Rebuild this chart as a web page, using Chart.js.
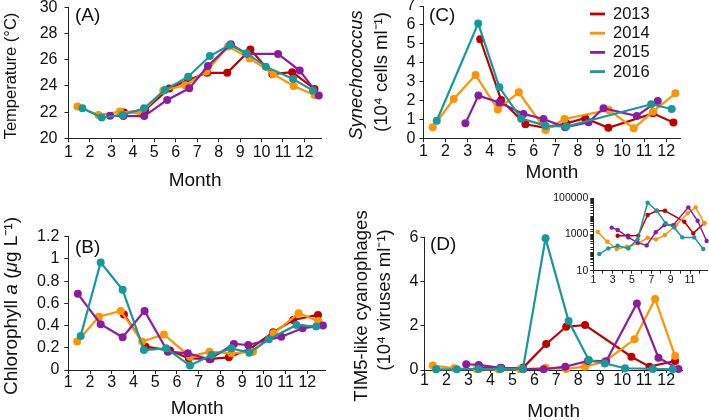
<!DOCTYPE html>
<html><head><meta charset="utf-8">
<script src="https://cdn.jsdelivr.net/npm/chart.js@4.4.1/dist/chart.umd.min.js"></script>
<style>
html,body{margin:0;padding:0;background:#fff;overflow:hidden;width:709px;height:420px;position:relative;}
canvas{position:absolute;left:-20px;top:-20px;}
</style></head><body>
<canvas id="cA" width="749" height="460"></canvas>
<canvas id="cB" width="749" height="460"></canvas>
<canvas id="cC" width="749" height="460"></canvas>
<canvas id="cD" width="749" height="460"></canvas>
<canvas id="cI" width="749" height="460"></canvas>
<script>
// ---------- data ----------
const years = ['2013', '2014', '2015', '2016'];
const colors = ['#C00000', '#FF9300', '#8B1D9C', '#17999B'];
const monthTicks = [1, 2, 3, 4, 5, 6, 7, 8, 9, 10, 11, 12];
const insetMonthLabels = [1, 3, 5, 7, 9, 11];

// (A) Temperature
const tempTicks = [20, 22, 24, 26, 28, 30];
const tempMonth2013 = [3.59, 4.57, 5.7, 6.58, 7.47, 8.4, 9.48, 10.5, 11.43, 12.47];
const temp2013 = [21.96, 22.16, 23.8, 24.45, 25.0, 25.0, 26.78, 24.9, 25.05, 23.77];
const tempMonth2014 = [1.42, 2.4, 3.4, 4.36, 5.42, 6.45, 7.43, 8.44, 9.45, 10.55, 11.5, 12.47];
const temp2014 = [22.42, 21.78, 22.04, 21.9, 23.64, 24.05, 25.1, 27.0, 26.1, 24.9, 24.0, 23.3];
const tempMonth2015 = [2.94, 3.56, 4.53, 5.6, 6.63, 7.5, 8.57, 9.3, 10.77, 11.78, 12.67];
const temp2015 = [21.73, 21.7, 21.7, 22.93, 23.82, 25.52, 27.18, 26.45, 26.44, 25.17, 23.26];
const tempMonth2016 = [1.65, 2.55, 3.53, 4.52, 5.5, 6.58, 7.59, 8.52, 9.3, 10.2, 11.47, 12.4];
const temp2016 = [22.29, 21.58, 21.78, 22.29, 23.69, 24.7, 26.28, 27.12, 26.5, 25.47, 24.53, 23.64];

// (B) Chlorophyll a
const chlTicks = [0, 0.2, 0.4, 0.6, 0.8, 1, 1.2];
const chlMonth2013 = [3.56, 4.56, 5.68, 6.55, 7.55, 8.39, 9.36, 10.43, 11.35, 12.49];
const chl2013 = [0.5, 0.21, 0.175, 0.105, 0.1, 0.114, 0.19, 0.34, 0.45, 0.496];
const chlMonth2014 = [1.41, 2.41, 3.41, 4.4, 5.4, 6.6, 7.5, 8.5, 9.5, 10.45, 11.6, 12.5];
const chl2014 = [0.256, 0.48, 0.532, 0.256, 0.32, 0.12, 0.165, 0.15, 0.165, 0.33, 0.51, 0.44];
const chlMonth2015 = [1.44, 2.49, 3.5, 4.51, 5.58, 6.5, 7.5, 8.62, 9.28, 10.8, 11.78, 12.72];
const chl2015 = [0.686, 0.412, 0.295, 0.532, 0.165, 0.15, 0.096, 0.235, 0.225, 0.3, 0.376, 0.4];
const chlMonth2016 = [1.57, 2.49, 3.5, 4.48, 5.5, 6.6, 7.6, 8.5, 9.33, 10.23, 11.5, 12.41];
const chl2016 = [0.307, 0.968, 0.722, 0.18, 0.195, 0.04, 0.135, 0.195, 0.156, 0.277, 0.406, 0.391];

// (C) Synechococcus (10^4 cells/ml)
const synTicks = [0, 1, 2, 3, 4, 5, 6, 7];
const synMonth2013 = [3.57, 4.52, 5.62, 6.55, 7.47, 8.33, 9.38, 11.4, 12.33];
const syn2013 = [5.24, 2.03, 0.74, 0.55, 0.79, 1.06, 0.56, 1.32, 0.83];
const synMonth2014 = [1.42, 2.37, 3.36, 4.37, 5.32, 6.53, 7.39, 9.4, 10.53, 11.4, 12.42];
const syn2014 = [0.58, 2.08, 3.35, 1.53, 2.43, 0.44, 1.02, 1.5, 0.53, 1.41, 2.38];
const synMonth2015 = [2.9, 3.49, 4.44, 5.53, 6.44, 7.42, 8.48, 9.16, 10.67, 11.62];
const syn2015 = [0.79, 2.26, 1.89, 1.29, 1.02, 0.58, 0.85, 1.59, 1.18, 1.98];
const synMonth2016 = [1.6, 3.48, 4.44, 5.43, 6.53, 7.47, 11.32, 12.25];
const syn2016 = [0.93, 6.08, 2.7, 1.04, 0.67, 0.62, 1.8, 1.55];

// (D) TIM5-like cyanophages (10^4 viruses/ml)
const phageTicks = [0, 2, 4, 6];
const phageMonth2013 = [3.5, 4.5, 5.48, 6.54, 7.45, 8.31, 10.42, 11.24, 12.41];
const phage2013 = [0.09, 0.09, 0.1, 1.18, 1.96, 2.04, 0.6, 0.15, 0.41];
const phageMonth2014 = [1.38, 2.36, 3.38, 4.37, 5.35, 6.51, 7.45, 8.31, 9.2, 10.56, 11.5, 12.41];
const phage2014 = [0.2, 0.08, 0.03, 0.03, 0.03, 0.1, 0.05, 0.15, 0.38, 1.39, 3.22, 0.63];
const phageMonth2015 = [2.9, 3.47, 4.46, 5.5, 6.42, 7.41, 8.44, 9.27, 10.67, 11.65, 12.56];
const phage2015 = [0.26, 0.23, 0.1, 0.05, 0.03, 0.15, 0.41, 0.4, 3.02, 0.56, 0.05];
const phageMonth2016 = [1.53, 2.47, 3.47, 4.46, 5.48, 6.51, 7.56, 8.48, 9.21, 10.13, 11.39, 12.3];
const phage2016 = [0.03, 0.03, 0.05, 0.05, 0.05, 5.97, 2.22, 0.45, 0.3, 0.08, 0.05, 0.03];

// Inset: TIM5-like cyanophages, log scale (viruses/ml)
const insetYLabels = [10, 1000, 100000];
const logMonth2013 = [3.52, 4.6, 5.65, 6.62, 7.56, 8.41, 10.41, 11.34, 12.47];
const log2013 = [850, 850, 870, 12000, 20500, 20500, 5100, 1150, 4200];
const logMonth2014 = [1.45, 2.45, 3.42, 4.45, 5.65, 6.62, 7.48, 8.41, 9.55, 10.76, 11.58, 12.47];
const log2014 = [1400, 400, 158, 210, 325, 660, 540, 930, 3300, 15000, 31600, 4200];
const logMonth2015 = [2.9, 3.52, 4.62, 5.58, 6.52, 7.45, 8.35, 9.27, 10.83, 11.79, 12.72];
const log2015 = [2400, 1780, 690, 355, 250, 1320, 3300, 3300, 31600, 5700, 440];
const logMonth2016 = [1.62, 2.55, 3.52, 4.62, 5.58, 6.62, 7.56, 8.48, 9.37, 10.2, 11.44, 12.37];
const log2016 = [83, 171, 240, 171, 540, 57000, 20500, 4200, 2450, 690, 690, 158];

// ---------- drawing helpers ----------
const OX = 20, OY = 20, CW = 749, CH = 460, YW = 40;
const FONT = '"Liberation Sans", Arial, Helvetica, sans-serif';
Chart.defaults.font.family = FONT;
Chart.defaults.color = '#111';

function pair(xs, ys) { return xs.map((x, i) => ({ x: x, y: ys[i] })); }

function drawRich(ctx, cx, cy, segs, size, rotate) {
  ctx.save();
  ctx.translate(cx + OX, cy + OY);
  if (rotate) ctx.rotate(-Math.PI / 2);
  const f = s => (s.indexOf('i') >= 0 ? 'italic ' : '') + size + 'px ' + FONT;
  let total = 0;
  segs.forEach(([t, s]) => { ctx.font = f(s); total += ctx.measureText(t).width; });
  let x = -total / 2;
  ctx.fillStyle = '#111';
  ctx.textBaseline = 'alphabetic';
  ctx.textAlign = 'left';
  segs.forEach(([t, s]) => { ctx.font = f(s); ctx.fillText(t, x, size * 0.36); x += ctx.measureText(t).width; });
  ctx.restore();
}

function makePanel(p) {
  const xH = p.titleCenter != null ? (p.titleCenter - p.B + 11.4) : p.xH;
  const datasets = p.series.map((s, i) => ({
    label: years[i],
    data: pair(s[0], s[1]),
    borderColor: colors[i], backgroundColor: colors[i],
    pointBackgroundColor: colors[i], pointBorderColor: colors[i],
    borderWidth: p.lw, pointRadius: p.pr, pointBorderWidth: 0, pointHoverRadius: p.pr,
    tension: 0, order: 4 - i, clip: false
  }));
  const decor = {
    id: 'decor',
    afterDraw(chart) {
      const ctx = chart.ctx;
      (p.yTitles || []).forEach(t => drawRich(ctx, t.cx, t.cy, t.segs, t.size, true));
      if (p.tag) {
        ctx.save();
        ctx.font = '19px ' + FONT; ctx.fillStyle = '#111';
        ctx.textBaseline = 'middle'; ctx.textAlign = 'left';
        ctx.fillText(p.tag[0], p.tag[1] + OX, p.tag[2] + OY);
        ctx.restore();
      }
      if (p.legend) {
        ctx.save();
        ctx.font = '16.5px ' + FONT; ctx.textBaseline = 'middle'; ctx.textAlign = 'left';
        years.forEach((y, i) => {
          const yy = p.legend.y + i * p.legend.dy + OY;
          ctx.strokeStyle = colors[i]; ctx.lineWidth = 2.8;
          ctx.beginPath(); ctx.moveTo(p.legend.x0 + OX, yy); ctx.lineTo(p.legend.x1 + OX, yy); ctx.stroke();
          ctx.fillStyle = '#111';
          ctx.fillText(y, p.legend.tx + OX, yy + 0.5);
        });
        ctx.restore();
      }
    }
  };
  const yScale = {
    type: p.yType || 'linear', min: p.ymin, max: p.ymax,
    afterFit(s) { s.width = YW; },
    grid: { drawOnChartArea: false, drawTicks: true, tickLength: p.yTl, color: '#222', lineWidth: 1 },
    border: { color: '#222', width: 1 },
    ticks: { font: { size: p.fs }, color: '#111', padding: p.yPad, autoSkip: false },
  };
  if (p.yTicks) {
    yScale.afterBuildTicks = s => { s.ticks = p.yTicks.map(v => ({ value: v })); };
    yScale.ticks.callback = v => String(v);
  } else {
    yScale.ticks.callback = v => (p.yLabels.indexOf(v) >= 0 ? String(v) : '');
  }
  return new Chart(document.getElementById(p.id), {
    type: 'line',
    data: { datasets },
    plugins: [decor],
    options: {
      responsive: false, animation: false, devicePixelRatio: 1, events: [],
      layout: { padding: { left: p.L + OX - YW, top: p.T + OY, right: CW - (p.R + OX), bottom: CH - (p.B + OY) - xH } },
      plugins: { legend: { display: false }, tooltip: { enabled: false } },
      scales: {
        x: {
          type: 'linear', min: 1, max: p.xmax,
          afterFit(s) { s.height = xH; },
          afterBuildTicks(s) { s.ticks = monthTicks.map(v => ({ value: v })); },
          grid: { drawOnChartArea: false, drawTicks: true, tickLength: p.xTl, color: '#222', lineWidth: 1 },
          border: { color: '#222', width: 1 },
          ticks: { font: { size: p.fs }, color: '#111', padding: p.xPad, autoSkip: false, maxRotation: 0,
                   callback: v => (p.xLabels ? (p.xLabels.indexOf(v) >= 0 ? String(v) : '') : String(v)) },
          title: { display: p.titleCenter != null, text: 'Month', font: { size: 19 }, padding: 0, color: '#111' }
        },
        y: yScale
      }
    }
  });
}

// ---------- panels ----------
makePanel({
  id: 'cA', L: 68.5, R: 321.6, T: 7.3, B: 138.3, xmax: 12.8, ymin: 20, ymax: 30, yTicks: tempTicks,
  fs: 16, xTl: 4, xPad: 1, yTl: 4, yPad: 7, titleCenter: 181, lw: 2.2, pr: 4,
  series: [[tempMonth2013, temp2013], [tempMonth2014, temp2014], [tempMonth2015, temp2015], [tempMonth2016, temp2016]],
  yTitles: [{ cx: 10, cy: 76, size: 16.5, segs: [['Temperature (°C)', '']] }],
  tag: ['(A)', 75, 15.5]
});
makePanel({
  id: 'cB', L: 68.3, R: 325.8, T: 236.7, B: 370, xmax: 12.85, ymin: 0, ymax: 1.2, yTicks: chlTicks,
  fs: 16, xTl: 4, xPad: -1, yTl: 4, yPad: 5, titleCenter: 409, lw: 2.2, pr: 4,
  series: [[chlMonth2013, chl2013], [chlMonth2014, chl2014], [chlMonth2015, chl2015], [chlMonth2016, chl2016]],
  yTitles: [{ cx: 10, cy: 306, size: 19, segs: [['Chlorophyll ', ''], ['a', 'i'], [' (', ''], ['μ', 'i'], ['g L⁻¹)', '']] }],
  tag: ['(B)', 75, 247.5]
});
makePanel({
  id: 'cC', L: 423.5, R: 680.5, T: 6, B: 138.3, xmax: 12.65, ymin: 0, ymax: 7, yTicks: synTicks,
  fs: 16, xTl: 4, xPad: 0, yTl: 4, yPad: 4, titleCenter: 172.5, lw: 2.2, pr: 4,
  series: [[synMonth2013, syn2013], [synMonth2014, syn2014], [synMonth2015, syn2015], [synMonth2016, syn2016]],
  yTitles: [
    { cx: 355, cy: 75, size: 18.5, segs: [['Synechococcus', 'i']] },
    { cx: 380, cy: 72, size: 18.5, segs: [['(10⁴ cells ml⁻¹)', '']] }
  ],
  tag: ['(C)', 429, 15.5],
  legend: { x0: 590, x1: 605, tx: 613, y: 14, dy: 19.2 }
});
makePanel({
  id: 'cD', L: 424.5, R: 682.6, T: 237.7, B: 370, xmax: 12.75, ymin: 0, ymax: 6, yTicks: phageTicks,
  fs: 16, xTl: 3, xPad: -2, yTl: 4, yPad: 2, titleCenter: 411.5, lw: 2.2, pr: 4,
  series: [[phageMonth2013, phage2013], [phageMonth2014, phage2014], [phageMonth2015, phage2015], [phageMonth2016, phage2016]],
  yTitles: [
    { cx: 360, cy: 306, size: 18.5, segs: [['TIM5-like cyanophages', '']] },
    { cx: 383, cy: 300, size: 18.5, segs: [['(10⁴ viruses ml⁻¹)', '']] }
  ],
  tag: ['(D)', 430, 245]
});
makePanel({
  id: 'cI', L: 593.3, R: 707.9, T: 198.3, B: 270.7, xmax: 12.85, ymin: 10, ymax: 100000, yType: 'logarithmic',
  yLabels: insetYLabels, xLabels: insetMonthLabels,
  fs: 10.5, xTl: 3, xPad: 0, yTl: 3, yPad: 2, xH: 15, lw: 1.5, pr: 2.2,
  series: [[logMonth2013, log2013], [logMonth2014, log2014], [logMonth2015, log2015], [logMonth2016, log2016]]
});
</script>
</body></html>
